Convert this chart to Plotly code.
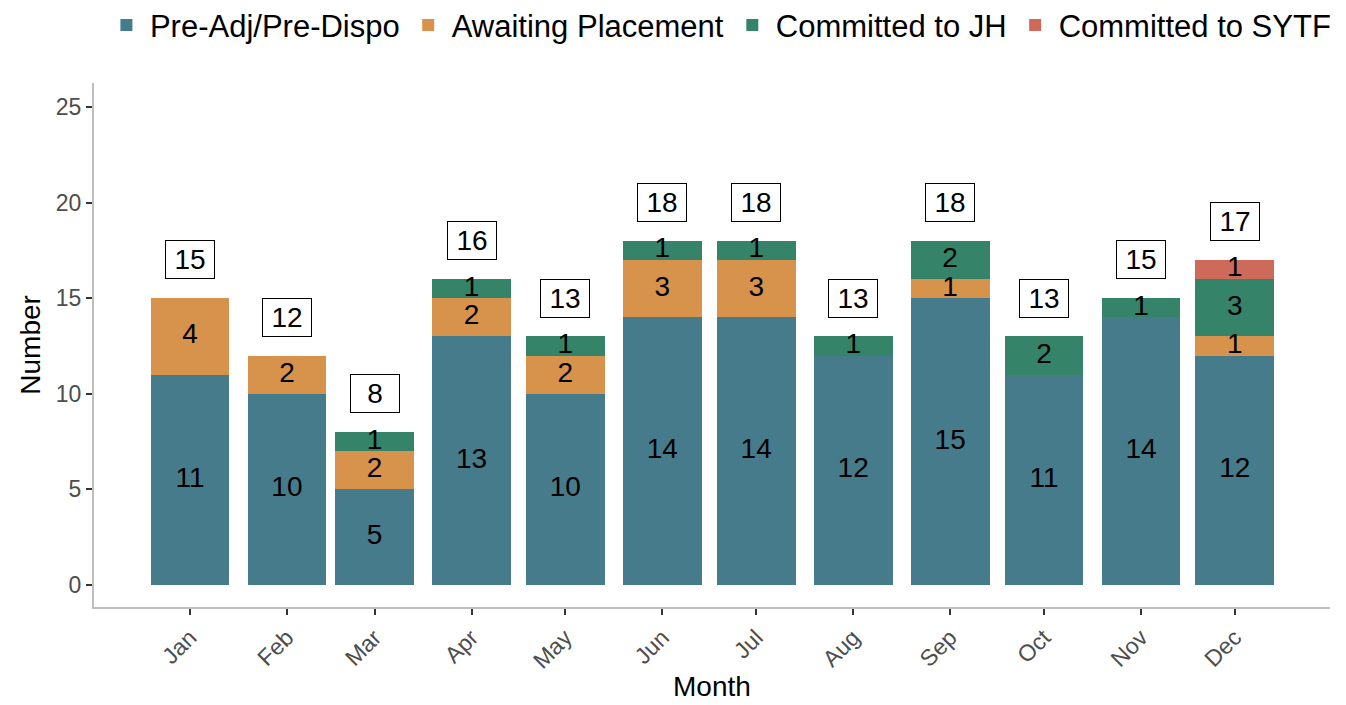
import plotly.graph_objects as go

months = ["Jan", "Feb", "Mar", "Apr", "May", "Jun", "Jul", "Aug", "Sep", "Oct", "Nov", "Dec"]
dates = ["2023-%02d-01" % (i + 1) for i in range(12)]
pre_adj = [11, 10, 5, 13, 10, 14, 14, 12, 15, 11, 14, 12]
awaiting = [4, 2, 2, 2, 2, 3, 3, 0, 1, 0, 0, 1]
committed_jh = [0, 0, 1, 1, 1, 1, 1, 1, 2, 2, 1, 3]
committed_sytf = [0, 0, 0, 0, 0, 0, 0, 0, 0, 0, 0, 1]

series = [
    ("Pre-Adj/Pre-Dispo", pre_adj, "#467B8C"),
    ("Awaiting Placement", awaiting, "#D7924C"),
    ("Committed to JH", committed_jh, "#35846A"),
    ("Committed to SYTF", committed_sytf, "#CD6A5A"),
]

DAY = 86400000
bar_width = 25.2 * DAY
font_family = "Liberation Sans, Arial, sans-serif"

fig = go.Figure()
base = [0] * 12
label_x, label_y, label_t = [], [], []
for name, vals, color in series:
    fig.add_trace(go.Bar(
        x=dates, y=vals, name=name, marker_color=color,
        marker_line_width=0, width=[bar_width] * 12,
    ))
    for i, v in enumerate(vals):
        if v > 0:
            label_x.append(dates[i])
            label_y.append(base[i] + v / 2)
            label_t.append(str(v))
        base[i] += v

fig.add_trace(go.Scatter(
    x=label_x, y=label_y, text=label_t, mode="text",
    textfont=dict(size=28, color="black", family=font_family),
    showlegend=False, hoverinfo="skip",
))

totals = base
for d, t in zip(dates, totals):
    fig.add_annotation(
        x=d, y=t + 2, text=str(t), showarrow=False, width=42,
        font=dict(size=28, color="black", family=font_family),
        bgcolor="white", bordercolor="black", borderwidth=1, borderpad=3,
    )

fig.add_annotation(
    xref="paper", yref="paper", x=-0.052, y=0.5, text="Number", textangle=-90,
    xanchor="center", yanchor="middle",
    showarrow=False, font=dict(size=28, color="black", family=font_family),
)
fig.add_annotation(
    xref="paper", yref="paper", x=0.5, y=-0.186, text="Month",
    xanchor="center", yanchor="bottom",
    showarrow=False, font=dict(size=28, color="black", family=font_family),
)

fig.update_layout(
    barmode="stack",
    width=1346, height=705,
    paper_bgcolor="white", plot_bgcolor="white",
    margin=dict(l=94, r=16, t=83, b=98, autoexpand=False),
    font=dict(family=font_family, color="black"),
    legend=dict(
        orientation="h", x=0.506, xanchor="center", y=1.11, yanchor="middle",
        font=dict(size=31, color="black"), traceorder="normal",
        itemwidth=37,
    ),
    xaxis=dict(
        type="date", automargin=False,
        range=["2022-12-01 08:00", "2023-12-31 10:00"],
        tickvals=dates, ticktext=months, tickangle=-45,
        tickfont=dict(size=23, color="#4D4D4D"),
        ticks="outside", ticklen=6, tickwidth=2, tickcolor="#333333",
        showline=True, linecolor="#BEBEBE", linewidth=2,
        showgrid=False, zeroline=False,
    ),
    yaxis=dict(
        range=[-1.15, 26.25], automargin=False,
        tickvals=[0, 5, 10, 15, 20, 25],
        tickfont=dict(size=23, color="#4D4D4D"),
        ticks="outside", ticklen=6, tickwidth=2, tickcolor="#333333",
        showline=True, linecolor="#BEBEBE", linewidth=2,
        showgrid=False, zeroline=False,
    ),
)

fig.write_html("out.html", config={"displayModeBar": False},
               post_script="document.body.style.margin='0px';")
